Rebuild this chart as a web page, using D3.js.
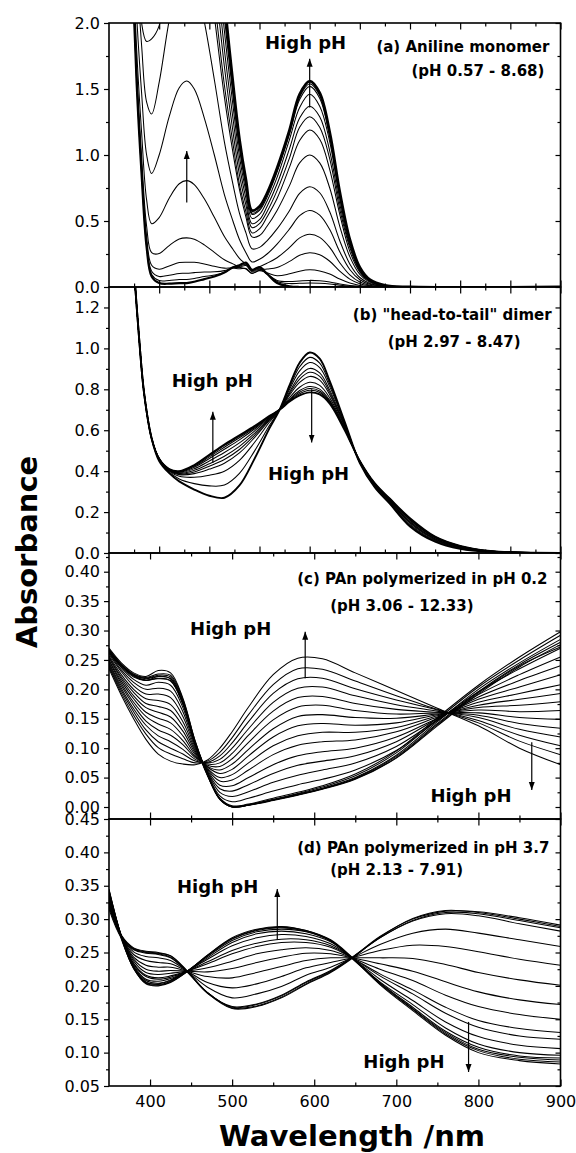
<!DOCTYPE html>
<html>
<head>
<meta charset="utf-8">
<script src="https://cdn.jsdelivr.net/npm/d3@7"></script>
<style>
  html, body { margin: 0; padding: 0; background: #ffffff; }
  svg { display: block; }
</style>
</head>
<body>
<div id="chart"></div>
<script>
// ---- panel (a): aniline monomer, pH 0.57 - 8.68 ----
const monomerWavelengths = [245, 255, 265, 275, 285, 300, 320, 340, 355, 370, 390, 410, 430, 447, 460, 473, 485, 500, 515, 535, 560, 580, 600, 620, 640, 660, 680, 700, 720, 750, 800, 1100];
const monomerSpectra = [
  [2.6, 1.55, 0.85, 0.3, 0.08, 0.03, 0.025, 0.03, 0.03, 0.04, 0.06, 0.08, 0.11, 0.15, 0.165, 0.185, 0.13, 0.15, 0.10, 0.03, 0.005, 0, 0, 0, 0, 0, 0, 0, 0, 0, 0, 0],
  [2.61, 1.56, 0.86, 0.31, 0.095, 0.049, 0.049, 0.057, 0.057, 0.065, 0.079, 0.091, 0.11, 0.145, 0.156, 0.172, 0.122, 0.142, 0.10, 0.042, 0.026, 0.028, 0.03, 0.028, 0.023, 0.014, 0.007, 0.003, 0.001, 0, 0, 0],
  [2.62, 1.58, 0.88, 0.336, 0.12, 0.08, 0.089, 0.103, 0.104, 0.109, 0.114, 0.115, 0.124, 0.146, 0.15, 0.162, 0.115, 0.134, 0.099, 0.05, 0.041, 0.046, 0.05, 0.047, 0.038, 0.023, 0.012, 0.005, 0.002, 0, 0, 0],
  [2.65, 1.61, 0.92, 0.38, 0.165, 0.135, 0.16, 0.185, 0.188, 0.187, 0.175, 0.157, 0.143, 0.144, 0.138, 0.141, 0.103, 0.124, 0.108, 0.085, 0.10, 0.12, 0.13, 0.122, 0.098, 0.06, 0.03, 0.012, 0.005, 0.001, 0, 0],
  [2.71, 1.67, 0.99, 0.46, 0.26, 0.253, 0.314, 0.364, 0.372, 0.362, 0.319, 0.262, 0.206, 0.175, 0.149, 0.137, 0.104, 0.129, 0.136, 0.148, 0.194, 0.241, 0.26, 0.244, 0.195, 0.12, 0.06, 0.025, 0.009, 0.002, 0, 0],
  [2.84, 1.81, 1.17, 0.66, 0.48, 0.526, 0.673, 0.782, 0.806, 0.776, 0.668, 0.528, 0.382, 0.286, 0.217, 0.173, 0.13, 0.154, 0.18, 0.222, 0.30, 0.372, 0.40, 0.376, 0.30, 0.184, 0.092, 0.038, 0.014, 0.003, 0, 0],
  [3.07, 2.07, 1.47, 1.0, 0.86, 1.0, 1.29, 1.51, 1.56, 1.50, 1.28, 1.0, 0.70, 0.50, 0.36, 0.26, 0.19, 0.21, 0.25, 0.325, 0.44, 0.54, 0.58, 0.545, 0.435, 0.267, 0.133, 0.055, 0.02, 0.005, 0, 0],
  [3, 2.36, 1.83, 1.40, 1.31, 1.55, 2.02, 2.36, 2.45, 2.35, 2.01, 1.57, 1.10, 0.78, 0.56, 0.41, 0.29, 0.30, 0.35, 0.44, 0.58, 0.71, 0.76, 0.714, 0.57, 0.35, 0.175, 0.072, 0.027, 0.006, 0, 0],
  [3, 3, 2.0, 1.86, 1.88, 1.98, 2.5, 3.08, 3.2, 3.07, 2.62, 2.05, 1.44, 1.02, 0.74, 0.53, 0.38, 0.39, 0.46, 0.58, 0.77, 0.94, 1.0, 0.94, 0.75, 0.46, 0.23, 0.095, 0.035, 0.008, 0, 0],
  [3, 3, 3, 2.6, 2.5, 2.7, 3, 3, 3.4, 3.3, 2.79, 2.18, 1.53, 1.09, 0.78, 0.57, 0.41, 0.44, 0.53, 0.67, 0.91, 1.11, 1.19, 1.12, 0.89, 0.55, 0.27, 0.113, 0.042, 0.01, 0, 0],
  [3, 3, 3, 2.8, 2.7, 2.9, 3.2, 3.5, 3.7, 3.6, 3.03, 2.37, 1.67, 1.18, 0.85, 0.62, 0.45, 0.48, 0.57, 0.73, 0.98, 1.21, 1.29, 1.21, 0.97, 0.59, 0.30, 0.12, 0.045, 0.01, 0, 0],
  [3, 3, 3, 3, 3, 3, 3.3, 3.8, 4.0, 3.9, 3.28, 2.56, 1.80, 1.28, 0.92, 0.67, 0.48, 0.51, 0.61, 0.78, 1.05, 1.28, 1.37, 1.29, 1.03, 0.63, 0.315, 0.13, 0.048, 0.011, 0, 0],
  [3, 3, 3, 3, 3, 3, 3.5, 4.1, 4.3, 4.1, 3.5, 2.75, 1.94, 1.38, 0.99, 0.72, 0.52, 0.55, 0.65, 0.83, 1.12, 1.36, 1.46, 1.37, 1.10, 0.67, 0.336, 0.139, 0.051, 0.012, 0, 0],
  [3, 3, 3, 3, 3, 3, 3.7, 4.3, 4.55, 4.4, 3.73, 2.91, 2.05, 1.46, 1.05, 0.76, 0.55, 0.58, 0.68, 0.87, 1.16, 1.42, 1.52, 1.43, 1.14, 0.70, 0.35, 0.144, 0.053, 0.012, 0, 0],
  [3, 3, 3, 3, 3, 3, 3.8, 4.5, 4.7, 4.5, 3.85, 3.0, 2.12, 1.50, 1.08, 0.78, 0.56, 0.59, 0.70, 0.88, 1.18, 1.44, 1.54, 1.45, 1.155, 0.71, 0.354, 0.146, 0.054, 0.012, 0, 0],
  [3, 3, 3, 3, 3, 3, 3.9, 4.6, 4.85, 4.65, 3.98, 3.1, 2.18, 1.55, 1.12, 0.81, 0.58, 0.61, 0.71, 0.90, 1.19, 1.46, 1.56, 1.47, 1.17, 0.72, 0.36, 0.148, 0.055, 0.012, 0, 0],
];
const monomerTicks = [0, 0.5, 1.0, 1.5, 2.0];

// ---- panel (b): "head-to-tail" dimer, pH 2.97 - 8.47 ----
const dimerWavelengths = [250, 260, 270, 285, 300, 320, 340, 370, 400, 430, 460, 490, 520, 540, 560, 580, 600, 620, 640, 670, 700, 730, 760, 800, 850, 900, 960, 1100];
const dimerSpectra = [
  [1.38, 1.05, 0.78, 0.56, 0.45, 0.39, 0.35, 0.31, 0.28, 0.27, 0.33, 0.46, 0.61, 0.70, 0.82, 0.93, 0.98, 0.95, 0.84, 0.64, 0.44, 0.32, 0.24, 0.13, 0.055, 0.02, 0.005, 0],
  [1.38, 1.05, 0.78, 0.56, 0.455, 0.395, 0.362, 0.339, 0.328, 0.332, 0.389, 0.498, 0.624, 0.70, 0.81, 0.91, 0.956, 0.928, 0.826, 0.635, 0.441, 0.322, 0.243, 0.135, 0.058, 0.022, 0.006, 0],
  [1.38, 1.05, 0.78, 0.56, 0.46, 0.40, 0.375, 0.37, 0.38, 0.40, 0.453, 0.54, 0.64, 0.70, 0.80, 0.89, 0.931, 0.906, 0.813, 0.63, 0.443, 0.325, 0.246, 0.14, 0.061, 0.024, 0.006, 0],
  [1.38, 1.05, 0.78, 0.56, 0.46, 0.403, 0.383, 0.388, 0.41, 0.439, 0.489, 0.564, 0.649, 0.70, 0.788, 0.866, 0.902, 0.88, 0.796, 0.624, 0.444, 0.328, 0.25, 0.146, 0.065, 0.026, 0.007, 0],
  [1.38, 1.05, 0.78, 0.56, 0.46, 0.404, 0.386, 0.396, 0.424, 0.457, 0.506, 0.575, 0.653, 0.70, 0.78, 0.85, 0.883, 0.863, 0.785, 0.62, 0.445, 0.33, 0.253, 0.15, 0.068, 0.028, 0.008, 0],
  [1.38, 1.05, 0.78, 0.56, 0.46, 0.406, 0.389, 0.404, 0.436, 0.473, 0.521, 0.585, 0.657, 0.70, 0.772, 0.834, 0.863, 0.845, 0.774, 0.616, 0.446, 0.332, 0.255, 0.154, 0.07, 0.029, 0.008, 0],
  [1.38, 1.05, 0.78, 0.56, 0.46, 0.407, 0.392, 0.412, 0.45, 0.491, 0.538, 0.596, 0.661, 0.70, 0.76, 0.81, 0.834, 0.819, 0.758, 0.61, 0.448, 0.335, 0.259, 0.16, 0.074, 0.031, 0.009, 0],
  [1.38, 1.05, 0.78, 0.56, 0.46, 0.408, 0.395, 0.419, 0.462, 0.507, 0.553, 0.606, 0.665, 0.70, 0.752, 0.794, 0.814, 0.801, 0.746, 0.606, 0.449, 0.337, 0.261, 0.164, 0.076, 0.033, 0.009, 0],
  [1.38, 1.05, 0.78, 0.56, 0.46, 0.409, 0.397, 0.424, 0.47, 0.517, 0.563, 0.612, 0.667, 0.70, 0.748, 0.786, 0.804, 0.792, 0.741, 0.604, 0.449, 0.338, 0.263, 0.166, 0.078, 0.034, 0.0095, 0],
  [1.38, 1.05, 0.78, 0.56, 0.46, 0.41, 0.399, 0.428, 0.476, 0.525, 0.57, 0.617, 0.669, 0.70, 0.744, 0.778, 0.795, 0.784, 0.736, 0.602, 0.45, 0.339, 0.264, 0.168, 0.079, 0.034, 0.01, 0],
  [1.38, 1.05, 0.78, 0.56, 0.46, 0.41, 0.40, 0.43, 0.48, 0.53, 0.575, 0.62, 0.67, 0.70, 0.74, 0.77, 0.785, 0.775, 0.73, 0.60, 0.45, 0.34, 0.265, 0.17, 0.08, 0.035, 0.01, 0],
];
const dimerTicks = [0, 0.2, 0.4, 0.6, 0.8, 1.0, 1.2];

// ---- panel (c): PAn polymerized in pH 0.2, pH 3.06 - 12.33 ----
const pan02Wavelengths = [350, 365, 380, 395, 410, 425, 440, 455, 470, 485, 500, 520, 550, 580, 610, 650, 700, 750, 800, 850, 900];
const pan02Spectra = [
  [0.27, 0.245, 0.228, 0.222, 0.232, 0.228, 0.185, 0.112, 0.055, 0.013, 0.0, 0.003, 0.012, 0.022, 0.032, 0.05, 0.088, 0.145, 0.20, 0.245, 0.285],
  [0.268, 0.243, 0.226, 0.22, 0.226, 0.224, 0.183, 0.112, 0.056, 0.014, 0.0, 0.003, 0.012, 0.021, 0.031, 0.049, 0.086, 0.142, 0.196, 0.242, 0.28],
  [0.266, 0.242, 0.225, 0.219, 0.224, 0.221, 0.18, 0.11, 0.055, 0.014, 0.001, 0.004, 0.013, 0.023, 0.034, 0.053, 0.092, 0.149, 0.204, 0.25, 0.292],
  [0.264, 0.24, 0.224, 0.218, 0.222, 0.218, 0.178, 0.108, 0.054, 0.013, 0.0, 0.003, 0.011, 0.02, 0.03, 0.047, 0.083, 0.138, 0.192, 0.238, 0.276],
  [0.262, 0.238, 0.221, 0.215, 0.219, 0.215, 0.176, 0.108, 0.055, 0.015, 0.002, 0.005, 0.015, 0.025, 0.036, 0.056, 0.095, 0.152, 0.207, 0.255, 0.298],
  [0.266, 0.241, 0.223, 0.216, 0.218, 0.214, 0.174, 0.106, 0.053, 0.014, 0.001, 0.004, 0.012, 0.021, 0.031, 0.048, 0.084, 0.140, 0.194, 0.24, 0.272],
  [0.268, 0.241, 0.223, 0.215, 0.222, 0.218, 0.177, 0.109, 0.057, 0.019, 0.009, 0.015, 0.027, 0.038, 0.047, 0.063, 0.096, 0.147, 0.196, 0.235, 0.27],
  [0.265, 0.237, 0.217, 0.207, 0.212, 0.207, 0.169, 0.106, 0.059, 0.025, 0.018, 0.026, 0.042, 0.054, 0.063, 0.075, 0.103, 0.148, 0.191, 0.225, 0.255],
  [0.263, 0.233, 0.212, 0.20, 0.202, 0.197, 0.162, 0.104, 0.06, 0.031, 0.027, 0.038, 0.057, 0.071, 0.078, 0.087, 0.111, 0.15, 0.187, 0.215, 0.24],
  [0.26, 0.23, 0.206, 0.192, 0.192, 0.186, 0.154, 0.101, 0.062, 0.037, 0.036, 0.05, 0.072, 0.087, 0.094, 0.10, 0.119, 0.151, 0.183, 0.204, 0.225],
  [0.257, 0.225, 0.20, 0.184, 0.181, 0.174, 0.145, 0.098, 0.064, 0.044, 0.046, 0.063, 0.089, 0.105, 0.111, 0.114, 0.128, 0.153, 0.178, 0.193, 0.208],
  [0.255, 0.221, 0.195, 0.176, 0.171, 0.164, 0.137, 0.095, 0.066, 0.05, 0.055, 0.075, 0.104, 0.121, 0.127, 0.127, 0.135, 0.155, 0.173, 0.183, 0.193],
  [0.253, 0.218, 0.189, 0.169, 0.161, 0.153, 0.129, 0.092, 0.068, 0.057, 0.064, 0.087, 0.119, 0.138, 0.142, 0.139, 0.143, 0.157, 0.169, 0.173, 0.179],
  [0.25, 0.214, 0.184, 0.161, 0.151, 0.143, 0.121, 0.089, 0.069, 0.063, 0.073, 0.098, 0.133, 0.154, 0.157, 0.152, 0.151, 0.158, 0.165, 0.162, 0.164],
  [0.248, 0.21, 0.178, 0.154, 0.141, 0.132, 0.113, 0.086, 0.071, 0.069, 0.082, 0.11, 0.148, 0.17, 0.173, 0.164, 0.158, 0.16, 0.16, 0.152, 0.149],
  [0.245, 0.206, 0.173, 0.146, 0.131, 0.122, 0.106, 0.084, 0.073, 0.075, 0.091, 0.122, 0.163, 0.186, 0.188, 0.176, 0.166, 0.161, 0.156, 0.142, 0.134],
  [0.243, 0.202, 0.167, 0.139, 0.121, 0.111, 0.098, 0.081, 0.075, 0.081, 0.10, 0.133, 0.178, 0.202, 0.204, 0.189, 0.174, 0.163, 0.152, 0.132, 0.119],
  [0.24, 0.198, 0.162, 0.131, 0.111, 0.10, 0.09, 0.078, 0.076, 0.087, 0.109, 0.145, 0.193, 0.218, 0.219, 0.201, 0.182, 0.165, 0.147, 0.122, 0.104],
  [0.238, 0.194, 0.156, 0.124, 0.101, 0.09, 0.082, 0.075, 0.078, 0.093, 0.118, 0.157, 0.208, 0.235, 0.234, 0.214, 0.189, 0.166, 0.143, 0.112, 0.089],
  [0.235, 0.19, 0.15, 0.115, 0.09, 0.078, 0.073, 0.072, 0.08, 0.10, 0.128, 0.17, 0.225, 0.253, 0.252, 0.228, 0.198, 0.168, 0.138, 0.10, 0.072],
];
const pan02Ticks = [0, 0.05, 0.10, 0.15, 0.20, 0.25, 0.30, 0.35, 0.40];

// ---- panel (d): PAn polymerized in pH 3.7, pH 2.13 - 7.91 ----
const pan37Wavelengths = [350, 365, 380, 395, 410, 425, 445, 470, 500, 530, 560, 590, 620, 646, 680, 720, 760, 800, 850, 900];
const pan37Spectra = [
  [0.32, 0.275, 0.255, 0.25, 0.248, 0.243, 0.222, 0.19, 0.168, 0.172, 0.185, 0.205, 0.222, 0.242, 0.272, 0.298, 0.31, 0.308, 0.298, 0.287],
  [0.318, 0.274, 0.256, 0.251, 0.249, 0.245, 0.223, 0.19, 0.167, 0.17, 0.183, 0.203, 0.221, 0.242, 0.274, 0.30, 0.312, 0.311, 0.302, 0.291],
  [0.315, 0.272, 0.254, 0.249, 0.247, 0.242, 0.221, 0.189, 0.169, 0.173, 0.186, 0.206, 0.223, 0.243, 0.272, 0.297, 0.308, 0.305, 0.293, 0.282],
  [0.322, 0.276, 0.257, 0.252, 0.25, 0.245, 0.222, 0.189, 0.166, 0.169, 0.182, 0.202, 0.22, 0.241, 0.273, 0.301, 0.313, 0.31, 0.30, 0.289],
  [0.324, 0.275, 0.251, 0.244, 0.242, 0.238, 0.222, 0.198, 0.182, 0.188, 0.199, 0.216, 0.228, 0.242, 0.262, 0.279, 0.285, 0.279, 0.269, 0.259],
  [0.327, 0.275, 0.247, 0.238, 0.235, 0.233, 0.222, 0.205, 0.197, 0.203, 0.214, 0.227, 0.235, 0.242, 0.253, 0.261, 0.259, 0.251, 0.24, 0.231],
  [0.331, 0.275, 0.243, 0.231, 0.228, 0.228, 0.222, 0.214, 0.212, 0.22, 0.229, 0.238, 0.242, 0.242, 0.242, 0.241, 0.232, 0.22, 0.209, 0.201],
  [0.334, 0.275, 0.24, 0.225, 0.222, 0.223, 0.222, 0.221, 0.226, 0.235, 0.243, 0.249, 0.248, 0.242, 0.233, 0.222, 0.206, 0.191, 0.179, 0.172],
  [0.337, 0.275, 0.237, 0.22, 0.217, 0.219, 0.222, 0.227, 0.237, 0.248, 0.254, 0.257, 0.253, 0.242, 0.225, 0.208, 0.186, 0.169, 0.157, 0.15],
  [0.34, 0.275, 0.234, 0.216, 0.212, 0.215, 0.222, 0.233, 0.248, 0.259, 0.265, 0.265, 0.258, 0.242, 0.218, 0.194, 0.168, 0.148, 0.136, 0.13],
  [0.341, 0.275, 0.233, 0.214, 0.21, 0.213, 0.222, 0.236, 0.253, 0.264, 0.27, 0.269, 0.26, 0.242, 0.215, 0.188, 0.159, 0.138, 0.125, 0.12],
  [0.343, 0.275, 0.231, 0.21, 0.207, 0.211, 0.222, 0.24, 0.26, 0.272, 0.277, 0.274, 0.263, 0.242, 0.21, 0.178, 0.146, 0.124, 0.111, 0.106],
  [0.344, 0.275, 0.229, 0.208, 0.204, 0.209, 0.222, 0.242, 0.265, 0.278, 0.282, 0.278, 0.266, 0.242, 0.206, 0.172, 0.137, 0.113, 0.10, 0.096],
  [0.33, 0.27, 0.227, 0.205, 0.203, 0.208, 0.222, 0.244, 0.268, 0.281, 0.285, 0.281, 0.267, 0.242, 0.205, 0.168, 0.132, 0.108, 0.095, 0.092],
  [0.335, 0.272, 0.226, 0.204, 0.201, 0.206, 0.221, 0.246, 0.272, 0.285, 0.289, 0.283, 0.268, 0.241, 0.204, 0.166, 0.13, 0.105, 0.093, 0.089],
  [0.34, 0.273, 0.226, 0.203, 0.20, 0.205, 0.221, 0.246, 0.271, 0.284, 0.288, 0.283, 0.269, 0.243, 0.202, 0.163, 0.126, 0.10, 0.088, 0.083],
  [0.345, 0.275, 0.228, 0.206, 0.202, 0.207, 0.222, 0.245, 0.27, 0.283, 0.287, 0.282, 0.268, 0.242, 0.203, 0.165, 0.128, 0.103, 0.09, 0.086],
];
const pan37Ticks = [0.05, 0.10, 0.15, 0.20, 0.25, 0.30, 0.35, 0.40, 0.45];

const wavelengthTicks = [400, 500, 600, 700, 800, 900];

// ---- layout ----
const width = 576;
const height = 1153;
const plotLeft = 109;
const plotRight = 560.5;
const FONT = "DejaVu Sans";

const panels = [
  {
    id: "a",
    wavelengths: monomerWavelengths,
    spectra: monomerSpectra,
    xDomain: [200, 1100],
    xMajor: d3.range(300, 1101, 100),
    xMinor: d3.range(250, 1100, 100),
    yDomain: [0, 2],
    yTicks: monomerTicks,
    yMinor: d3.range(0.25, 2, 0.5),
    format: d3.format(".1f"),
    top: 23,
    bottom: 287,
    heavy: { 0: 2.2, 15: 2.8 },
    labels: [
      { text: "(a) Aniline monomer", wl: 733, abs: 1.78, size: 15 },
      { text: "(pH 0.57 - 8.68)", wl: 803, abs: 1.598, size: 15 },
      { text: "High pH", wl: 511, abs: 1.803, size: 18 },
    ],
    arrows: [
      { wl: 600, from: 1.36, to: 1.73 },
      { wl: 355, from: 0.64, to: 1.03 },
    ],
  },
  {
    id: "b",
    wavelengths: dimerWavelengths,
    spectra: dimerSpectra,
    xDomain: [200, 1100],
    xMajor: d3.range(300, 1101, 100),
    xMinor: d3.range(250, 1100, 100),
    yDomain: [0, 1.3],
    yTicks: dimerTicks,
    yMinor: d3.range(0.1, 1.25, 0.2),
    format: d3.format(".1f"),
    top: 287,
    bottom: 553,
    heavy: { 0: 1.9, 10: 1.9 },
    labels: [
      { text: "(b) \"head-to-tail\" dimer", wl: 686, abs: 1.141, size: 15 },
      { text: "(pH 2.97 - 8.47)", wl: 755.5, abs: 1.005, size: 15 },
      { text: "High pH", wl: 325, abs: 0.81, size: 18 },
      { text: "High pH", wl: 517, abs: 0.356, size: 18 },
    ],
    arrows: [
      { wl: 407, from: 0.44, to: 0.69 },
      { wl: 604, from: 0.80, to: 0.54 },
    ],
  },
  {
    id: "c",
    wavelengths: pan02Wavelengths,
    spectra: pan02Spectra,
    xDomain: [350, 900],
    xMajor: wavelengthTicks,
    xMinor: d3.range(450, 900, 100),
    yDomain: [-0.0204, 0.4318],
    yTicks: pan02Ticks,
    yMinor: d3.range(0.025, 0.43, 0.05),
    format: d3.format(".2f"),
    top: 553,
    bottom: 819,
    heavy: {},
    labels: [
      { text: "(c) PAn polymerized in pH 0.2", wl: 579.3, abs: 0.379, size: 15 },
      { text: "(pH 3.06 - 12.33)", wl: 619.5, abs: 0.333, size: 15 },
      { text: "High pH", wl: 448.8, abs: 0.2925, size: 18 },
      { text: "High pH", wl: 741.5, abs: 0.0085, size: 18 },
    ],
    arrows: [
      { wl: 589, from: 0.219, to: 0.298 },
      { wl: 865, from: 0.11, to: 0.029 },
    ],
  },
  {
    id: "d",
    wavelengths: pan37Wavelengths,
    spectra: pan37Spectra,
    xDomain: [350, 900],
    xMajor: wavelengthTicks,
    xMinor: d3.range(450, 900, 100),
    yDomain: [0.05, 0.45],
    yTicks: pan37Ticks,
    yMinor: d3.range(0.075, 0.44, 0.05),
    format: d3.format(".2f"),
    top: 819,
    bottom: 1086,
    heavy: {},
    showX: true,
    labels: [
      { text: "(d) PAn polymerized in pH 3.7", wl: 579.3, abs: 0.399, size: 15 },
      { text: "(pH 2.13 - 7.91)", wl: 619.5, abs: 0.366, size: 15 },
      { text: "High pH", wl: 432.9, abs: 0.339, size: 18 },
      { text: "High pH", wl: 659.8, abs: 0.077, size: 18 },
    ],
    arrows: [
      { wl: 555, from: 0.269, to: 0.345 },
      { wl: 788, from: 0.146, to: 0.071 },
    ],
  },
];

const svg = d3
  .select("#chart")
  .append("svg")
  .attr("width", width)
  .attr("height", height)
  .attr("viewBox", [0, 0, width, height]);

const defs = svg.append("defs");

defs
  .append("marker")
  .attr("id", "arrow-head")
  .attr("viewBox", "0 -3.5 8 7")
  .attr("refX", 8)
  .attr("refY", 0)
  .attr("markerWidth", 8)
  .attr("markerHeight", 7)
  .attr("markerUnits", "userSpaceOnUse")
  .attr("orient", "auto")
  .append("path")
  .attr("d", "M0,-3L8,0L0,3Z")
  .attr("fill", "#000");

function styleAxis(g) {
  g.select(".domain").remove();
  g.selectAll(".tick line").attr("stroke", "#000").attr("stroke-width", 1.2);
  g.selectAll(".tick text")
    .attr("fill", "#000")
    .attr("font-family", FONT)
    .attr("font-size", 16);
}

function drawPanel(panel) {
  const x = d3.scaleLinear().domain(panel.xDomain).range([plotLeft, plotRight]);
  const y = d3.scaleLinear().domain(panel.yDomain).range([panel.bottom, panel.top]);
  const group = svg.append("g").attr("class", `panel panel--${panel.id}`);

  defs
    .append("clipPath")
    .attr("id", `clip-${panel.id}`)
    .append("rect")
    .attr("x", plotLeft)
    .attr("y", panel.top)
    .attr("width", plotRight - plotLeft)
    .attr("height", panel.bottom - panel.top);

  const line = d3
    .line()
    .x((_, i) => x(panel.wavelengths[i]))
    .y((d) => y(d))
    .curve(d3.curveCatmullRom.alpha(0.5));

  group
    .append("g")
    .attr("clip-path", `url(#clip-${panel.id})`)
    .selectAll("path")
    .data(panel.spectra)
    .join("path")
    .attr("fill", "none")
    .attr("stroke", "#000")
    .attr("stroke-width", (_, i) => panel.heavy[i] || 1.05)
    .attr("stroke-linejoin", "round")
    .attr("d", line);

  // x ticks, pointing inward on top and bottom
  group
    .append("g")
    .attr("transform", `translate(0,${panel.bottom})`)
    .call(
      d3.axisBottom(x)
        .tickValues(panel.xMajor)
        .tickSize(-6.5)
        .tickPadding(10)
        .tickFormat(panel.showX ? d3.format("d") : () => ""),
    )
    .call(styleAxis);

  group
    .append("g")
    .attr("transform", `translate(0,${panel.bottom})`)
    .call(d3.axisBottom(x).tickValues(panel.xMinor).tickSize(-3.5).tickFormat(() => ""))
    .call(styleAxis);

  group
    .append("g")
    .attr("transform", `translate(0,${panel.top})`)
    .call(d3.axisTop(x).tickValues(panel.xMajor).tickSize(-6.5).tickFormat(() => ""))
    .call(styleAxis);

  group
    .append("g")
    .attr("transform", `translate(0,${panel.top})`)
    .call(d3.axisTop(x).tickValues(panel.xMinor).tickSize(-3.5).tickFormat(() => ""))
    .call(styleAxis);

  // y ticks: outward on the left, inward on the right
  group
    .append("g")
    .attr("transform", `translate(${plotLeft},0)`)
    .call(d3.axisLeft(y).tickValues(panel.yTicks).tickSize(5).tickPadding(4).tickFormat(panel.format))
    .call(styleAxis);

  group
    .append("g")
    .attr("transform", `translate(${plotLeft},0)`)
    .call(d3.axisLeft(y).tickValues(panel.yMinor).tickSize(3).tickFormat(() => ""))
    .call(styleAxis);

  group
    .append("g")
    .attr("transform", `translate(${plotRight},0)`)
    .call(d3.axisRight(y).tickValues(panel.yTicks).tickSize(-5).tickFormat(() => ""))
    .call(styleAxis);

  group
    .append("g")
    .attr("transform", `translate(${plotRight},0)`)
    .call(d3.axisRight(y).tickValues(panel.yMinor).tickSize(-3).tickFormat(() => ""))
    .call(styleAxis);

  group
    .append("rect")
    .attr("x", plotLeft)
    .attr("y", panel.top)
    .attr("width", plotRight - plotLeft)
    .attr("height", panel.bottom - panel.top)
    .attr("fill", "none")
    .attr("stroke", "#000")
    .attr("stroke-width", 1.6);

  group
    .append("g")
    .selectAll("line")
    .data(panel.arrows)
    .join("line")
    .attr("x1", (d) => x(d.wl))
    .attr("x2", (d) => x(d.wl))
    .attr("y1", (d) => y(d.from))
    .attr("y2", (d) => y(d.to))
    .attr("stroke", "#000")
    .attr("stroke-width", 1.2)
    .attr("marker-end", "url(#arrow-head)");

  group
    .append("g")
    .selectAll("text")
    .data(panel.labels)
    .join("text")
    .attr("x", (d) => x(d.wl))
    .attr("y", (d) => y(d.abs))
    .attr("font-family", FONT)
    .attr("font-weight", "bold")
    .attr("font-size", (d) => d.size)
    .attr("fill", "#000")
    .text((d) => d.text);
}

panels.forEach(drawPanel);

svg
  .append("text")
  .attr("transform", "translate(37,552) rotate(-90)")
  .attr("text-anchor", "middle")
  .attr("font-family", FONT)
  .attr("font-weight", "bold")
  .attr("font-size", 29)
  .text("Absorbance");

svg
  .append("text")
  .attr("x", 352)
  .attr("y", 1146)
  .attr("text-anchor", "middle")
  .attr("font-family", FONT)
  .attr("font-weight", "bold")
  .attr("font-size", 29)
  .text("Wavelength /nm");
</script>
</body>
</html>
